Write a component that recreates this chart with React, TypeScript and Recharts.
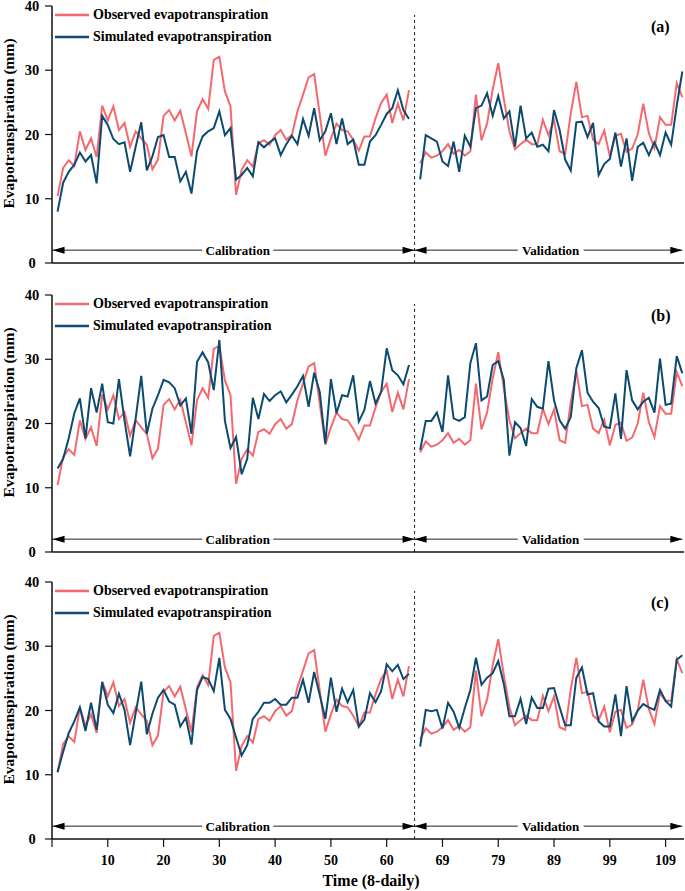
import { LineChart, Line, XAxis, YAxis, ReferenceLine, ReferenceDot, Legend } from 'recharts'

const FONT = '"Times New Roman", "Liberation Serif", Times, serif'
const OBS_COLOR = '#f4696e'
const SIM_COLOR = '#0c4a70'
const AXIS_COLOR = '#111'

// calibration steps 1-64, one empty step, then validation labelled 65-112
const observedCal = [
  10.4, 14.8, 16.0, 15.1, 20.5, 17.6, 19.4, 16.5, 24.5, 22.2, 24.4, 20.7, 21.8, 18.1, 20.5, 19.4,
  18.4, 14.6, 16.1, 22.9, 23.8, 22.2, 23.7, 20.2, 16.6, 23.6, 25.5, 24.0, 31.6, 32.1, 26.7, 24.4,
  10.6, 14.5, 16.0, 15.0, 18.7, 19.1, 18.4, 19.9, 20.7, 19.2, 19.9, 23.6, 26.2, 28.9, 29.4, 23.1,
  16.7, 19.4, 21.7, 20.7, 20.5, 19.2, 17.5, 19.7, 19.7, 22.5, 24.9, 26.2, 21.8, 24.8, 22.2, 26.9,
]
const observedVal = [
  15.5, 17.2, 16.4, 16.7, 17.4, 18.5, 17.0, 17.6, 16.7, 17.4, 26.2, 19.1, 21.7, 27.0, 31.1, 25.5,
  20.5, 17.7, 18.5, 19.2, 18.5, 18.5, 22.3, 19.9, 22.2, 17.4, 17.0, 23.3, 28.2, 22.7, 22.9, 19.2,
  18.5, 20.6, 16.6, 19.8, 20.1, 17.3, 17.8, 20.0, 24.8, 20.2, 17.9, 22.7, 21.5, 21.5, 28.0, 25.8,
]

const simACal = [
  8.0, 12.5, 14.2, 15.3, 17.2, 15.8, 16.8, 12.4, 22.9, 21.5, 19.3, 18.5, 18.8, 14.2, 18.1, 21.9,
  14.4, 16.6, 19.6, 19.9, 16.5, 16.5, 12.7, 14.2, 10.8, 17.4, 19.7, 20.5, 21.0, 23.6, 19.9, 21.0,
  13.0, 13.7, 14.8, 13.5, 18.8, 18.0, 18.8, 19.4, 16.8, 18.5, 19.8, 18.5, 22.4, 19.8, 24.1, 19.1,
  20.5, 23.3, 18.5, 22.5, 18.5, 19.2, 15.3, 15.3, 18.9, 19.9, 21.5, 23.2, 24.1, 26.9, 23.8, 22.4,
]
const simAVal = [
  13.0, 19.9, 19.4, 18.9, 15.8, 15.1, 18.9, 14.2, 19.8, 18.1, 24.1, 24.5, 26.4, 22.9, 26.0, 22.5,
  23.6, 18.1, 24.5, 19.4, 20.3, 18.1, 18.4, 17.4, 23.8, 20.7, 16.1, 14.4, 21.9, 22.0, 19.6, 21.8,
  13.7, 15.4, 16.2, 20.3, 15.0, 19.4, 12.8, 18.1, 18.7, 16.8, 18.8, 16.8, 20.3, 18.4, 24.5, 29.8,
]

const simBCal = [
  13.0, 14.5, 17.7, 21.6, 23.9, 17.7, 25.5, 21.7, 26.2, 20.2, 20.0, 26.9, 20.5, 14.9, 20.8, 27.4,
  18.4, 22.3, 24.4, 26.8, 26.4, 25.5, 22.8, 23.9, 18.4, 29.6, 31.1, 29.5, 25.2, 33.0, 20.4, 16.2,
  17.9, 12.1, 14.5, 24.0, 20.7, 24.6, 23.5, 24.4, 25.0, 23.3, 24.5, 25.8, 27.4, 22.6, 27.9, 24.9,
  16.9, 26.9, 21.6, 24.4, 24.2, 27.5, 20.3, 22.1, 26.6, 23.1, 24.9, 31.7, 28.3, 27.5, 26.1, 29.1,
]
const simBVal = [
  15.9, 20.4, 20.4, 21.7, 18.7, 27.5, 20.8, 20.4, 21.0, 29.4, 32.5, 23.6, 24.2, 29.1, 29.7, 26.8,
  15.0, 20.2, 19.3, 16.5, 23.8, 22.6, 22.3, 29.7, 23.6, 20.5, 19.2, 21.0, 28.6, 31.4, 24.8, 23.4,
  22.4, 19.5, 19.3, 24.7, 17.6, 28.3, 23.6, 22.2, 23.4, 24.0, 21.7, 30.1, 22.9, 23.1, 30.5, 27.8,
]

const simCCal = [
  10.4, 13.6, 16.5, 18.3, 20.5, 16.8, 21.2, 17.0, 24.4, 20.9, 19.6, 22.6, 20.1, 14.6, 19.6, 24.5,
  16.3, 19.5, 22.0, 23.2, 21.4, 20.9, 17.5, 18.9, 14.7, 23.2, 25.2, 24.9, 23.0, 28.2, 20.1, 18.7,
  15.8, 13.0, 14.6, 18.7, 19.8, 21.2, 21.2, 21.8, 20.9, 20.9, 22.0, 22.0, 24.8, 21.2, 26.0, 22.4,
  18.7, 25.1, 19.8, 23.4, 21.3, 23.2, 17.5, 18.6, 22.7, 21.3, 23.0, 27.2, 26.1, 27.1, 24.9, 25.7,
]
const simCVal = [
  14.4, 20.1, 19.9, 20.1, 17.2, 21.2, 19.8, 17.3, 20.4, 23.2, 28.2, 24.0, 25.1, 25.8, 27.7, 24.1,
  19.1, 19.1, 21.8, 17.9, 22.0, 20.4, 20.4, 23.4, 23.5, 20.5, 17.7, 17.7, 25.1, 26.7, 22.5, 22.7,
  18.3, 17.5, 17.5, 22.5, 16.0, 23.8, 18.3, 20.0, 21.0, 20.5, 20.1, 23.2, 21.5, 20.6, 27.9, 28.6,
]

const majorXTicks = [0, 10, 20, 30, 40, 50, 60, 70, 80, 90, 100, 110]
const minorXTicks = [5, 15, 25, 35, 45, 55, 65, 75, 85, 95, 105]
const majorYTicks = [0, 10, 20, 30, 40]
const minorYTicks = [5, 15, 25, 35]

const X_MAX = 113.3
const SPLIT_X = 65
const ARROW_Y = 2
const PLOT_H = 257

type Row = { t: number; obs: number | null; sim: number | null }

function buildRows(simCal: number[], simVal: number[]): Row[] {
  const rows: Row[] = []
  observedCal.forEach((v, i) => rows.push({ t: i + 1, obs: v, sim: simCal[i] }))
  rows.push({ t: SPLIT_X, obs: null, sim: null })
  observedVal.forEach((v, i) => rows.push({ t: SPLIT_X + 1 + i, obs: v, sim: simVal[i] }))
  return rows
}

// validation steps are drawn one slot to the right of their label
const formatX = (v: number) => (v === 0 ? '' : v > SPLIT_X ? String(v - 1) : String(v))

const YTick = (props: any) => {
  const { x, y, payload } = props
  return (
    <text x={x - 11} y={y} dy="0.35em" textAnchor="middle" fontFamily={FONT} fontWeight="bold" fontSize={14.5} fill="#000">
      {payload.value}
    </text>
  )
}

const yTitle = (props: any) => {
  const { viewBox } = props
  const cy = viewBox.y + viewBox.height / 2 - 11
  return (
    <text transform={`translate(13.5, ${cy}) rotate(-90)`} textAnchor="middle" fontFamily={FONT} fontWeight="bold" fontSize={15.5} fill="#000">
      Evapotranspiration (mm)
    </text>
  )
}

const timeTitle = (props: any) => {
  const { viewBox } = props
  return (
    <text x={viewBox.x + viewBox.width / 2 + 3} y={viewBox.y + 47} textAnchor="middle" fontFamily={FONT} fontWeight="bold" fontSize={16} fill="#000">
      Time (8-daily)
    </text>
  )
}

const arrowHead = (dir: 'left' | 'right') => (props: any) => {
  const { cx, cy } = props
  const s = dir === 'left' ? 1 : -1
  return <polygon points={`${cx},${cy} ${cx + s * 12},${cy - 3.5} ${cx + s * 12},${cy + 3.5}`} fill="#000" />
}

const periodLabel = (text: string, w: number) => (props: any) => {
  const { cx, cy } = props
  return (
    <g>
      <rect x={cx - w / 2} y={cy - 8} width={w} height={16} fill="#fff" />
      <text x={cx} y={cy} dy="0.35em" textAnchor="middle" fontFamily={FONT} fontWeight="bold" fontSize={13} fill="#000">
        {text}
      </text>
    </g>
  )
}

const renderLegend = (props: any) => {
  const { payload } = props
  return (
    <div>
      {(payload || []).map((p: any) => (
        <div key={p.value} style={{ display: 'flex', alignItems: 'center', height: 22 }}>
          <svg width={34} height={4}>
            <line x1={0} y1={2} x2={34} y2={2} stroke={p.color} strokeWidth={2.5} />
          </svg>
          <span style={{ marginLeft: 4, fontFamily: FONT, fontWeight: 'bold', fontSize: 14, color: '#000', whiteSpace: 'nowrap' }}>
            {p.value}
          </span>
        </div>
      ))}
    </div>
  )
}

interface PanelProps {
  rows: Row[]
  tag: string
  top: number
  pad: number
  showTime?: boolean
}

function Panel({ rows, tag, top, pad, showTime = false }: PanelProps) {
  const axisH = showTime ? 52 : 27
  const height = pad + PLOT_H + axisH
  return (
    <div style={{ position: 'absolute', left: 0, top, width: 685, height }}>
      <LineChart width={685} height={height} data={rows} margin={{ top: pad, right: 1, bottom: 0, left: 0 }}>
        <XAxis
          xAxisId="minor"
          dataKey="t"
          type="number"
          domain={[0, X_MAX]}
          ticks={minorXTicks}
          height={0}
          tick={false}
          axisLine={false}
          tickSize={4}
          tickLine={{ stroke: AXIS_COLOR, strokeWidth: 1.2 }}
        />
        <XAxis
          dataKey="t"
          type="number"
          domain={[0, X_MAX]}
          ticks={majorXTicks}
          interval={0}
          height={axisH}
          tickSize={8}
          tickMargin={8}
          tickFormatter={formatX}
          tick={showTime ? { fill: '#000', fontSize: 14, fontWeight: 'bold', fontFamily: FONT } : false}
          axisLine={{ stroke: AXIS_COLOR, strokeWidth: 1.5 }}
          tickLine={{ stroke: AXIS_COLOR, strokeWidth: 1.2 }}
          label={showTime ? timeTitle : undefined}
        />
        <YAxis
          yAxisId="minor"
          domain={[0, 40]}
          ticks={minorYTicks}
          width={0}
          tick={false}
          axisLine={false}
          tickSize={4}
          tickLine={{ stroke: AXIS_COLOR, strokeWidth: 1.2 }}
        />
        <YAxis
          domain={[0, 40]}
          ticks={majorYTicks}
          interval={0}
          width={52}
          tickSize={7}
          tick={YTick}
          axisLine={{ stroke: AXIS_COLOR, strokeWidth: 1.5 }}
          tickLine={{ stroke: AXIS_COLOR, strokeWidth: 1.2 }}
          label={yTitle}
        />
        <Legend
          layout="vertical"
          align="center"
          verticalAlign="middle"
          wrapperStyle={{ left: 55, top: pad - 2, width: 240 }}
          content={renderLegend}
        />
        <ReferenceLine segment={[{ x: SPLIT_X, y: 0 }, { x: SPLIT_X, y: 38.6 }]} stroke="#222" strokeWidth={1} strokeDasharray="3 3" />
        <ReferenceLine segment={[{ x: 0, y: ARROW_Y }, { x: SPLIT_X, y: ARROW_Y }]} stroke="#222" strokeWidth={1} />
        <ReferenceLine segment={[{ x: SPLIT_X, y: ARROW_Y }, { x: 113, y: ARROW_Y }]} stroke="#222" strokeWidth={1} />
        <ReferenceDot x={0.1} y={ARROW_Y} shape={arrowHead('left')} />
        <ReferenceDot x={SPLIT_X} y={ARROW_Y} shape={arrowHead('right')} />
        <ReferenceDot x={SPLIT_X} y={ARROW_Y} shape={arrowHead('left')} />
        <ReferenceDot x={113} y={ARROW_Y} shape={arrowHead('right')} />
        <ReferenceDot x={33.3} y={ARROW_Y} shape={periodLabel('Calibration', 71)} />
        <ReferenceDot x={89.4} y={ARROW_Y} shape={periodLabel('Validation', 66)} />
        <Line
          type="linear"
          dataKey="obs"
          name="Observed evapotranspiration"
          stroke={OBS_COLOR}
          strokeWidth={2}
          dot={false}
          activeDot={false}
          isAnimationActive={false}
        />
        <Line
          type="linear"
          dataKey="sim"
          name="Simulated evapotranspiration"
          stroke={SIM_COLOR}
          strokeWidth={2}
          dot={false}
          activeDot={false}
          isAnimationActive={false}
        />
      </LineChart>
      <div
        style={{
          position: 'absolute',
          left: 651,
          top: pad + 13,
          fontFamily: FONT,
          fontWeight: 'bold',
          fontSize: 16,
          lineHeight: '16px',
          color: '#000',
        }}
      >
        {tag}
      </div>
    </div>
  )
}

export default function App() {
  return (
    <div style={{ position: 'absolute', left: 0, top: 0, width: 685, height: 891, background: '#fff', overflow: 'hidden' }}>
      <Panel rows={buildRows(simACal, simAVal)} tag="(a)" top={0} pad={6} />
      <Panel rows={buildRows(simBCal, simBVal)} tag="(b)" top={283} pad={12} />
      <Panel rows={buildRows(simCCal, simCVal)} tag="(c)" top={570} pad={12} showTime />
    </div>
  )
}
